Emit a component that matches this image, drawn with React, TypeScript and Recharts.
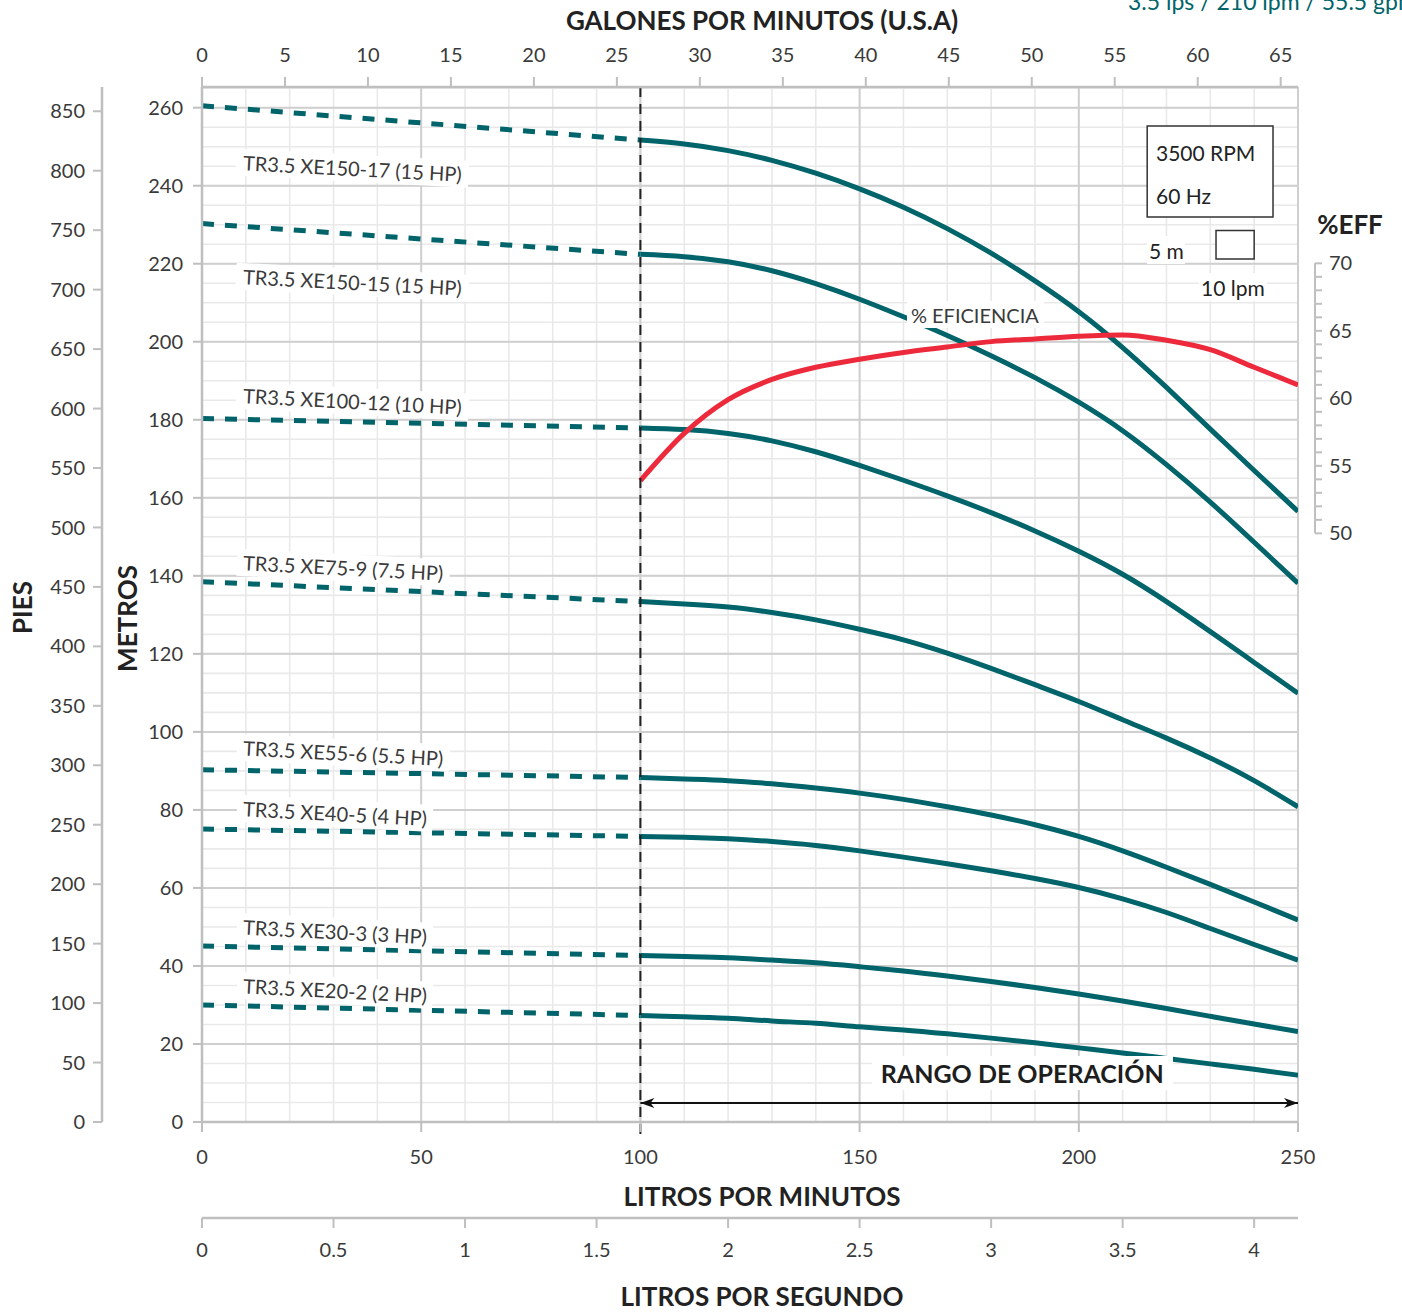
import React from 'react';
import {
  ComposedChart,
  Line,
  XAxis,
  YAxis,
  CartesianGrid,
  ReferenceLine,
  ReferenceDot,
  ReferenceArea,
} from 'recharts';

const TEAL = '#00646a';
const RED = '#ec2a3b';
const AXIS = '#bfbfbf';
const TEXT = '#3a3a3a';
const FONT = 'Lato, "Noto Sans", sans-serif';

// flow (lpm) where each curve was read
const flowLpm = [100, 110, 120, 130, 140, 150, 160, 170, 180, 190, 200, 210, 220, 230, 240, 250];

// head in metres along the operating range, one array per model
const xe150_17 = [251.7, 250.7, 249.0, 246.5, 243.2, 239.2, 234.5, 229.0, 222.7, 215.6, 207.7, 198.5, 188.3, 177.6, 167.0, 156.5];
const xe150_15 = [222.4, 221.8, 220.5, 218.2, 214.9, 210.9, 206.4, 201.6, 196.4, 190.8, 184.5, 177.2, 168.5, 158.9, 148.6, 138.1];
const xe100_12 = [177.9, 177.5, 176.5, 174.6, 171.8, 168.3, 164.5, 160.5, 156.2, 151.5, 146.3, 140.4, 133.4, 125.7, 117.8, 109.9];
const xe75_9 = [133.4, 132.8, 132.0, 130.6, 128.7, 126.3, 123.6, 120.2, 116.3, 112.1, 107.8, 103.1, 98.4, 93.3, 87.5, 80.8];
const xe55_6 = [88.3, 87.9, 87.5, 86.7, 85.6, 84.3, 82.7, 80.8, 78.7, 76.2, 73.2, 69.5, 65.3, 60.9, 56.4, 51.8];
const xe40_5 = [73.2, 73.0, 72.6, 71.9, 70.9, 69.5, 67.9, 66.2, 64.4, 62.4, 60.1, 57.2, 53.7, 49.6, 45.5, 41.5];
const xe30_3 = [42.7, 42.4, 42.1, 41.5, 40.8, 39.8, 38.7, 37.4, 36.0, 34.5, 32.8, 31.0, 29.1, 27.1, 25.1, 23.2];
const xe20_2 = [27.3, 27.0, 26.6, 25.9, 25.3, 24.4, 23.6, 22.6, 21.5, 20.3, 19.0, 17.7, 16.3, 14.9, 13.5, 12.0];

const modelNames = [
  'TR3.5 XE150-17 (15 HP)',
  'TR3.5 XE150-15 (15 HP)',
  'TR3.5 XE100-12 (10 HP)',
  'TR3.5 XE75-9 (7.5 HP)',
  'TR3.5 XE55-6 (5.5 HP)',
  'TR3.5 XE40-5 (4 HP)',
  'TR3.5 XE30-3 (3 HP)',
  'TR3.5 XE20-2 (2 HP)',
];
const modelHeads = [xe150_17, xe150_15, xe100_12, xe75_9, xe55_6, xe40_5, xe30_3, xe20_2];
// head at zero flow (start of the dashed part)
const shutoffHead = [260.5, 230.3, 180.3, 138.5, 90.3, 75.1, 45.1, 30.0];

// % efficiency, same flow points
const efficiency = [53.9, 57.4, 59.9, 61.4, 62.3, 62.9, 63.4, 63.8, 64.2, 64.4, 64.6, 64.7, 64.3, 63.6, 62.3, 61.0];

// tick labels
const lpmTicks = [0, 50, 100, 150, 200, 250];
const metrosTicks = [0, 20, 40, 60, 80, 100, 120, 140, 160, 180, 200, 220, 240, 260];
const piesTicks = [0, 50, 100, 150, 200, 250, 300, 350, 400, 450, 500, 550, 600, 650, 700, 750, 800, 850];
const gpmTicks = [0, 5, 10, 15, 20, 25, 30, 35, 40, 45, 50, 55, 60, 65];
const lpsTicks = [0, 0.5, 1, 1.5, 2, 2.5, 3, 3.5, 4];
const effTicks = [50, 51, 52, 53, 54, 55, 56, 57, 58, 59, 60, 61, 62, 63, 64, 65, 66, 67, 68, 69, 70];

// grid steps
const minorLpm = Array.from({ length: 26 }, (_, i) => i * 10);
const minorM = Array.from({ length: 54 }, (_, i) => i * 5);

// layout / domains
const W = 1402;
const H = 1313;
const PLOT_H = 1035;
const Q_MAX = 250;
const M_MAX = 265.3;
const FT_PER_M = 3.28084;
const LPM_PER_GPM = 3.78541;
const EFF_MIN = 6.4;
const EFF_MAX = 83.06;
const EFF_STEP_PX = PLOT_H / (EFF_MAX - EFF_MIN);

// annotation anchors (lpm, m)
const modelLabelAt = [
  { q: 9.4, h: 246.0 },
  { q: 9.4, h: 216.8 },
  { q: 9.4, h: 186.3 },
  { q: 9.4, h: 143.5 },
  { q: 9.4, h: 96.0 },
  { q: 9.4, h: 80.4 },
  { q: 9.4, h: 50.1 },
  { q: 9.4, h: 35.0 },
];
const ARROW_H = 4.9;

const solid = (heads: number[]) => flowLpm.map((q, i) => ({ q, h: heads[i] }));
const effData = flowLpm.map((q, i) => ({ q, e: efficiency[i] }));

function Note({ cx, cy, text, size = 20, weight = 400, rotate = 0, anchor = 'start', id, fill = TEXT, bg = true }: any) {
  const common = {
    x: cx,
    y: cy,
    dominantBaseline: 'central' as const,
    textAnchor: anchor,
    fontSize: size,
    fontFamily: FONT,
    fontWeight: weight,
  };
  return (
    <g transform={rotate ? `rotate(${rotate}, ${cx}, ${cy})` : undefined}>
      {bg && (
        <>
          <defs>
            <filter id={id} x="-0.03" y="-0.04" width="1.06" height="1.08">
              <feFlood floodColor="#ffffff" />
            </filter>
          </defs>
          <text {...common} fill="#fff" filter={`url(#${id})`}>
            {text}
          </text>
        </>
      )}
      <text {...common} fill={fill}>
        {text}
      </text>
    </g>
  );
}

function EffTick(props: any) {
  const { x, y, payload } = props;
  const v = payload.value;
  return (
    <g>
      <line x1={x + 17} x2={x + 24} y1={y} y2={y} stroke={AXIS} strokeWidth={2} />
      {v < 70 && <line x1={x + 17} x2={x + 17} y1={y} y2={y - EFF_STEP_PX} stroke={AXIS} strokeWidth={2} />}
      {v % 5 === 0 && (
        <text x={x + 31} y={y} dy="0.35em" fontSize={20} fill={TEXT} fontFamily={FONT}>
          {v}
        </text>
      )}
    </g>
  );
}

const title = (text: string, dx: number, dy: number, vertical = false) => (props: any) => {
  const vb = props.viewBox;
  const x = vertical ? vb.x + dx : vb.x + vb.width / 2 + dx;
  const y = vertical ? vb.y + vb.height / 2 + dy : vb.y + dy;
  return (
    <text
      x={x}
      y={y}
      textAnchor="middle"
      dominantBaseline="central"
      transform={vertical ? `rotate(-90, ${x}, ${y})` : undefined}
      fontSize={26}
      fontWeight={700}
      fill="#222"
      fontFamily={FONT}
    >
      {text}
    </text>
  );
};

const gpmTitle = (props: any) => (
  <g>
    {title('GALONES POR MINUTOS (U.S.A)', 12, 20)(props)}
    <text x={1128} y={10} fontSize={23} fill={TEAL} fontFamily={FONT}>
      3.5 lps / 210 lpm / 55.5 gpm
    </text>
  </g>
);

const effTitle = (props: any) => {
  const vb = props.viewBox;
  return (
    <text x={vb.x + 52} y={224} textAnchor="middle" dominantBaseline="central" fontSize={26} fontWeight={700} fill="#222" fontFamily={FONT}>
      %EFF
    </text>
  );
};

const ArrowShape = (p: any) => {
  const { x1, y1, x2, y2 } = p;
  return (
    <g>
      <line x1={x1} y1={y1} x2={x2} y2={y2} stroke="#111" strokeWidth={2} />
      <path d={`M${x1},${y1} l14,-5 l-4,5 l4,5 z`} fill="#111" />
      <path d={`M${x2},${y2} l-14,-5 l4,5 l-4,5 z`} fill="#111" />
    </g>
  );
};

// the start-of-range line runs a little past the bottom axis
const RangeStart = (p: any) => (
  <line x1={p.x1} x2={p.x2} y1={Math.min(p.y1, p.y2)} y2={Math.max(p.y1, p.y2) + 14}
    stroke="#222" strokeWidth={2} strokeDasharray="10 7" />
);

const tickStyle = { fill: TEXT, fontSize: 20, fontFamily: FONT };
const axisLine = { stroke: AXIS, strokeWidth: 2.5 };
const tickLine = { stroke: AXIS, strokeWidth: 2 };

export default function App() {
  return (
    <div style={{ position: 'absolute', left: 0, top: 0, width: W, height: H, background: '#fff', fontFamily: FONT }}>
      <ComposedChart width={W} height={H} margin={{ top: 0, right: 0, bottom: 0, left: 0 }}>
        <XAxis xAxisId="a_lpm" dataKey="q" type="number" domain={[0, Q_MAX]} allowDataOverflow ticks={lpmTicks} interval={0}
          orientation="bottom" height={96} tickSize={10} tickMargin={18} tick={tickStyle} axisLine={axisLine} tickLine={tickLine}
          label={title('LITROS POR MINUTOS', 12, 74)} />
        <XAxis xAxisId="b_lps" dataKey="q" type="number" domain={[0, Q_MAX / 60]} allowDataOverflow ticks={lpsTicks} interval={0}
          orientation="bottom" height={95} tickSize={10} tickMargin={15} tick={tickStyle} axisLine={axisLine} tickLine={tickLine}
          label={title('LITROS POR SEGUNDO', 12, 78)} />
        <XAxis xAxisId="c_gpm" dataKey="q" type="number" domain={[0, Q_MAX / LPM_PER_GPM]} allowDataOverflow ticks={gpmTicks} interval={0}
          orientation="top" height={87} tickSize={10} tickMargin={15} tick={tickStyle} axisLine={axisLine} tickLine={tickLine}
          label={gpmTitle} />
        <XAxis xAxisId="z_gx" dataKey="q" type="number" domain={[0, Q_MAX]} allowDataOverflow ticks={minorLpm} interval={0} height={0} hide />

        <YAxis yAxisId="a_m" type="number" domain={[0, M_MAX]} allowDataOverflow ticks={metrosTicks} interval={0}
          orientation="left" width={100} tickSize={9} tickMargin={10} tick={tickStyle} axisLine={axisLine} tickLine={tickLine}
          label={title('METROS', 25, 14, true)} />
        <YAxis yAxisId="b_ft" type="number" domain={[0, M_MAX * FT_PER_M]} allowDataOverflow ticks={piesTicks} interval={0}
          orientation="left" width={102} tickSize={9} tickMargin={8} tick={tickStyle} axisLine={axisLine} tickLine={tickLine}
          label={title('PIES', 22, 3, true)} />
        <YAxis yAxisId="c_eff" type="number" domain={[EFF_MIN, EFF_MAX]} allowDataOverflow ticks={effTicks} interval={0}
          orientation="right" width={104} tickSize={0} tickMargin={0} tick={<EffTick />} axisLine={false} tickLine={false}
          label={effTitle} />
        <YAxis yAxisId="z_gy" type="number" domain={[0, M_MAX]} allowDataOverflow ticks={minorM} interval={0} width={0} hide />

        <CartesianGrid xAxisId="z_gx" yAxisId="z_gy" stroke="#e9e9e9" strokeWidth={1.6} />
        <CartesianGrid xAxisId="a_lpm" yAxisId="a_m" stroke="#cfcfcf" strokeWidth={2} />

        {modelNames.map((name, i) => (
          <ReferenceDot key={`l-${name}`} xAxisId="a_lpm" yAxisId="a_m" x={modelLabelAt[i].q} y={modelLabelAt[i].h} r={0}
            shape={(p: any) => <Note cx={p.cx} cy={p.cy} text={name} rotate={3} id={`lbl${i}`} />} />
        ))}

        {modelNames.map((name, i) => (
          <Line key={`d-${name}`} data={[{ q: 0, h: shutoffHead[i] }, { q: flowLpm[0], h: modelHeads[i][0] }]}
            xAxisId="a_lpm" yAxisId="a_m" dataKey="h" type="linear" stroke={TEAL} strokeWidth={5} strokeDasharray="12 11"
            dot={false} activeDot={false} isAnimationActive={false} />
        ))}
        {modelNames.map((name, i) => (
          <Line key={`s-${name}`} data={solid(modelHeads[i])}
            xAxisId="a_lpm" yAxisId="a_m" dataKey="h" type="natural" stroke={TEAL} strokeWidth={5}
            dot={false} activeDot={false} isAnimationActive={false} />
        ))}
        <Line data={effData} xAxisId="a_lpm" yAxisId="c_eff" dataKey="e" type="monotone" stroke={RED} strokeWidth={5}
          dot={false} activeDot={false} isAnimationActive={false} />

        <ReferenceLine xAxisId="a_lpm" yAxisId="a_m" x={100} shape={RangeStart} />
        <ReferenceLine xAxisId="a_lpm" yAxisId="a_m" segment={[{ x: 100, y: ARROW_H }, { x: 250, y: ARROW_H }]} shape={ArrowShape} />

        <ReferenceDot xAxisId="a_lpm" yAxisId="a_m" x={161.7} y={206.9} r={0}
          shape={(p: any) => <Note cx={p.cx} cy={p.cy} text="% EFICIENCIA" id="effl" />} />
        <ReferenceDot xAxisId="a_lpm" yAxisId="a_m" x={187.1} y={12.6} r={0}
          shape={(p: any) => <Note cx={p.cx} cy={p.cy} text="RANGO DE OPERACIÓN" anchor="middle" size={25} weight={700} fill="#1e1e1e" id="rango" />} />

        <ReferenceArea xAxisId="a_lpm" yAxisId="a_m" x1={215.6} x2={244.3} y1={232.0} y2={255.3} fill="#fff" fillOpacity={1} stroke="#333" strokeWidth={1.5} />
        <ReferenceDot xAxisId="a_lpm" yAxisId="a_m" x={217.6} y={248.4} r={0}
          shape={(p: any) => <Note cx={p.cx} cy={p.cy} text="3500 RPM" size={21} fill="#222" bg={false} />} />
        <ReferenceDot xAxisId="a_lpm" yAxisId="a_m" x={217.6} y={237.6} r={0}
          shape={(p: any) => <Note cx={p.cx} cy={p.cy} text="60 Hz" size={21} fill="#222" bg={false} />} />
        <ReferenceArea xAxisId="a_lpm" yAxisId="a_m" x1={231.3} x2={240.0} y1={221.2} y2={228.5} fill="#fff" fillOpacity={1} stroke="#333" strokeWidth={1.5} />
        <ReferenceDot xAxisId="a_lpm" yAxisId="a_m" x={216.0} y={223.5} r={0}
          shape={(p: any) => <Note cx={p.cx} cy={p.cy} text="5 m" size={21} fill="#222" id="fivem" />} />
        <ReferenceDot xAxisId="a_lpm" yAxisId="a_m" x={227.9} y={214.0} r={0}
          shape={(p: any) => <Note cx={p.cx} cy={p.cy} text="10 lpm" size={21} fill="#222" id="tenlpm" />} />
      </ComposedChart>
    </div>
  );
}
